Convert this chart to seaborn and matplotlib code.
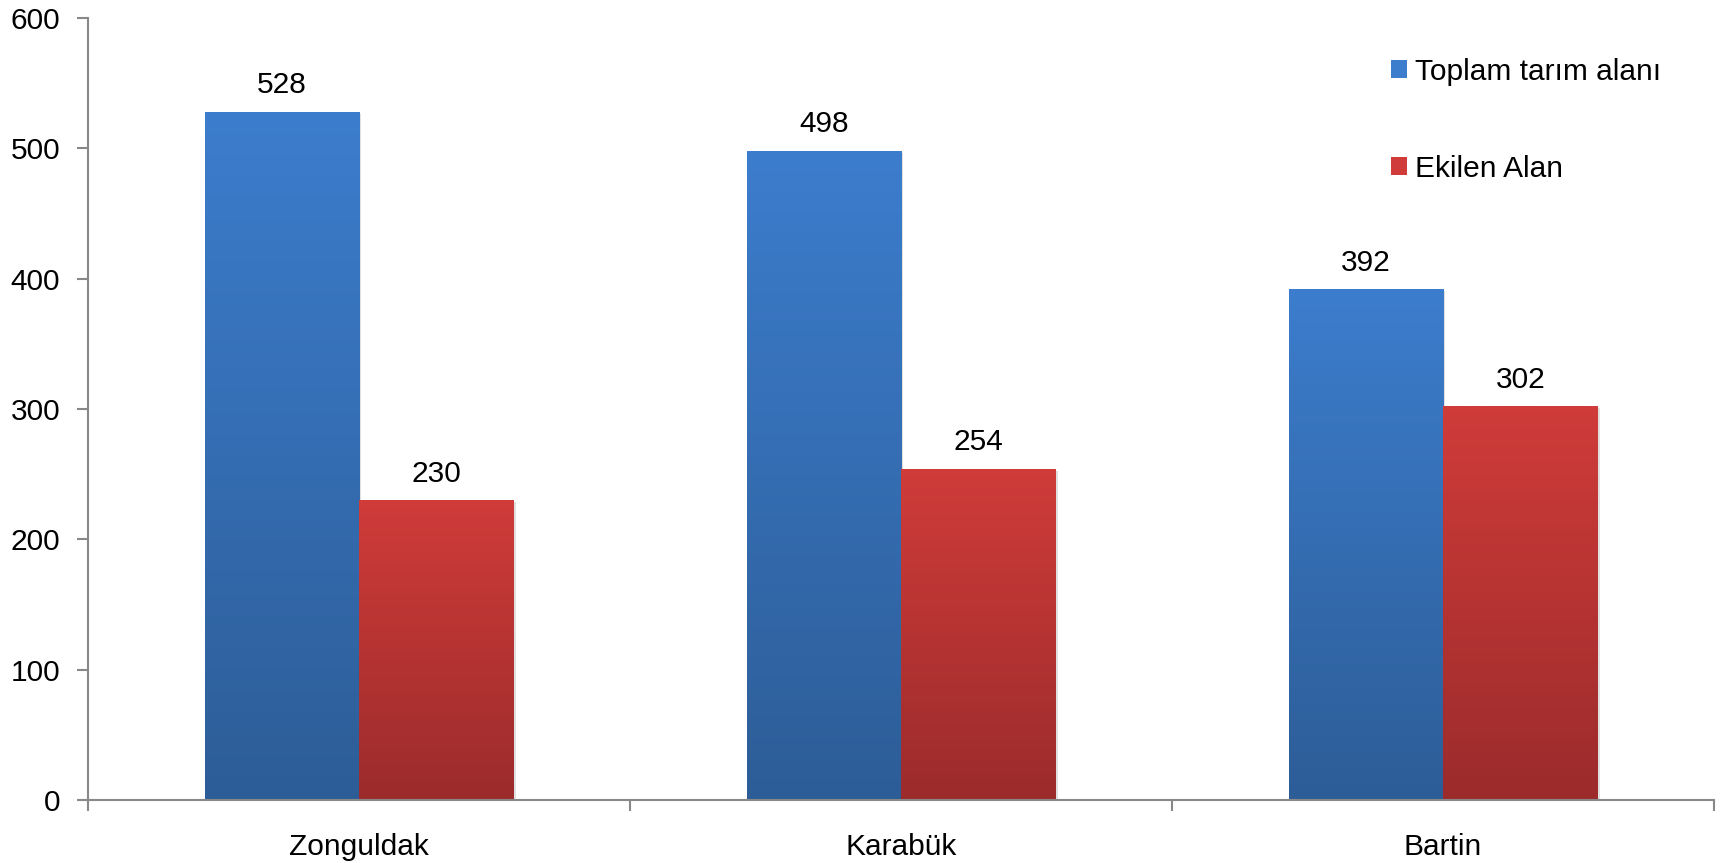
import numpy as np
import pandas as pd
import matplotlib
matplotlib.use("Agg")
import matplotlib.pyplot as plt
import seaborn as sns
from matplotlib.colors import LinearSegmentedColormap
from matplotlib.patches import Patch

# Datos
iller = ["Zonguldak", "Karabük", "Bartin"]
toplam_alan = [528, 498, 392]
ekilen_alan = [230, 254, 302]
seriler = ["Toplam tarım alanı", "Ekilen Alan"]
y_ticks = [0, 100, 200, 300, 400, 500, 600]

df = pd.DataFrame({
    "il": iller * 2,
    "seri": [seriler[0]] * 3 + [seriler[1]] * 3,
    "deger": toplam_alan + ekilen_alan,
})

sns.set_style("white")
plt.rcParams["font.family"] = ["Liberation Sans", "DejaVu Sans"]
plt.rcParams["text.color"] = "black"
fs = 21.5

renk_ust = {seriler[0]: "#3c7dcd", seriler[1]: "#cf3c39"}
renk_alt = {seriler[0]: "#2d5d97", seriler[1]: "#9c2b2c"}

fig = plt.figure(figsize=(17.21, 8.63), dpi=100)
ax = fig.add_axes([88 / 1721, 1 - 800 / 863, (1714 - 88) / 1721, (800 - 18) / 863])

sns.barplot(data=df, x="il", y="deger", hue="seri", hue_order=seriler,
            palette=renk_ust, width=0.57, gap=0, legend=False, ax=ax,
            saturation=1, linewidth=0)

ax.set_xlim(-0.5, 2.5)
ax.set_ylim(0, 600)

# Degrade ve gölge
grad = np.linspace(0, 1, 256).reshape(-1, 1)
for cont, seri in zip(ax.containers, seriler):
    cmap = LinearSegmentedColormap.from_list(seri, [renk_alt[seri], renk_ust[seri]])
    for bar in cont:
        x0, y0 = bar.get_x(), bar.get_y()
        w, h = bar.get_width(), bar.get_height()
        sh = plt.Rectangle((x0 + 0.004, y0), w, h - 1.5, color="#000000",
                           alpha=0.12, zorder=1, lw=0)
        ax.add_patch(sh)
        im = ax.imshow(grad, extent=[x0, x0 + w, y0, y0 + h], origin="lower",
                       cmap=cmap, aspect="auto", zorder=2)
        im.set_clip_path(bar)
        bar.set_zorder(2)
        ax.annotate(f"{int(h)}", (x0 + w / 2, h), xytext=(0, 9),
                    textcoords="offset points", ha="center", va="bottom",
                    fontsize=fs, color="black")

# Ejes
for s in ["top", "right"]:
    ax.spines[s].set_visible(False)
for s in ["left", "bottom"]:
    ax.spines[s].set_color("#888888")
    ax.spines[s].set_linewidth(1.5)

ax.set_yticks(y_ticks)
ax.tick_params(axis="y", left=True, labelsize=fs, length=8, width=1.5,
               color="#888888", labelcolor="black", pad=12)
ax.set_xticks(range(3))
ax.set_xticklabels(iller)
ax.tick_params(axis="x", which="major", labelsize=fs, length=0, pad=24,
               labelcolor="black")
ax.set_xticks([-0.5, 0.5, 1.5, 2.5], minor=True)
ax.tick_params(axis="x", which="minor", bottom=True, length=8, width=1.5,
               color="#888888")
ax.set_xlabel("")
ax.set_ylabel("")

handles = [Patch(facecolor=renk_ust[s], edgecolor="none") for s in seriler]
fig.legend(handles, seriler, loc="upper left", bbox_to_anchor=(1376 / 1721, 1 - 43 / 863),
           frameon=False, fontsize=fs, handlelength=0.55, handleheight=0.55,
           handletextpad=0.25, labelspacing=2.3, borderpad=0, labelcolor="black")

plt.savefig("out.png", dpi=100)
